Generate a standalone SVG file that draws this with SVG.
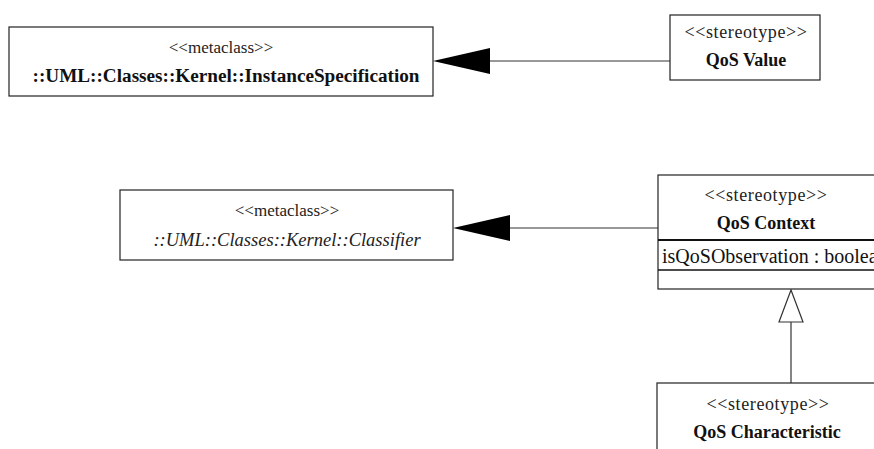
<svg xmlns="http://www.w3.org/2000/svg" width="874" height="449" viewBox="0 0 874 449">
<style>
.box{fill:#fff;stroke:#222;stroke-width:1.2}
.st{font-family:'Liberation Serif',serif;font-size:17px;fill:#222;text-anchor:middle}
.st2{font-family:'Liberation Serif',serif;font-size:18px;fill:#222;text-anchor:middle;letter-spacing:0.6px}
.nm{font-family:'Liberation Serif',serif;font-size:18px;font-weight:bold;fill:#111;text-anchor:middle}
.it{font-family:'Liberation Serif',serif;font-size:18.5px;font-style:italic;fill:#222;text-anchor:middle}
.at{font-family:'Liberation Serif',serif;font-size:20px;fill:#111}
.ln{stroke:#333;stroke-width:1.2;fill:none}
</style>
<g id="connectors">
<line class="ln" x1="670" y1="61" x2="490" y2="61"/>
<polygon points="433,61 490,48 490,74" fill="#000"/>
<line class="ln" x1="658" y1="228" x2="510" y2="228"/>
<polygon points="453,228 510,215 510,241" fill="#000"/>
<line class="ln" x1="791" y1="383" x2="791" y2="322"/>
<polygon points="791,290 779,322 803,322" fill="#fff" stroke="#333" stroke-width="1.2"/>
</g>
<g id="instanceSpecification">
<rect class="box" x="9" y="27" width="424" height="69"/>
<text class="st" x="221" y="53">&lt;&lt;metaclass&gt;&gt;</text>
<text class="nm" x="226" y="82" textLength="387" lengthAdjust="spacingAndGlyphs">::UML::Classes::Kernel::InstanceSpecification</text>
</g>
<g id="qosValue">
<rect class="box" x="670" y="15" width="150" height="65"/>
<text class="st2" x="746" y="38">&lt;&lt;stereotype&gt;&gt;</text>
<text class="nm" x="746" y="66">QoS Value</text>
</g>
<g id="classifier">
<rect class="box" x="120" y="190" width="333" height="70"/>
<text class="st" x="287" y="216">&lt;&lt;metaclass&gt;&gt;</text>
<text class="it" x="287" y="246">::UML::Classes::Kernel::Classifier</text>
</g>
<g id="qosContext">
<rect class="box" x="658" y="175" width="230" height="114"/>
<line x1="658" y1="240" x2="888" y2="240" stroke="#111" stroke-width="2"/>
<line x1="658" y1="270" x2="888" y2="270" stroke="#111" stroke-width="1.5"/>
<text class="st2" x="766" y="201">&lt;&lt;stereotype&gt;&gt;</text>
<text class="nm" x="766" y="229">QoS Context</text>
<text class="at" x="662" y="263">isQoSObservation : boolean</text>
</g>
<g id="qosCharacteristic">
<rect class="box" x="657" y="383" width="225" height="80"/>
<text class="st2" x="768" y="410">&lt;&lt;stereotype&gt;&gt;</text>
<text class="nm" x="767" y="438" font-size="19">QoS Characteristic</text>
</g>
</svg>
